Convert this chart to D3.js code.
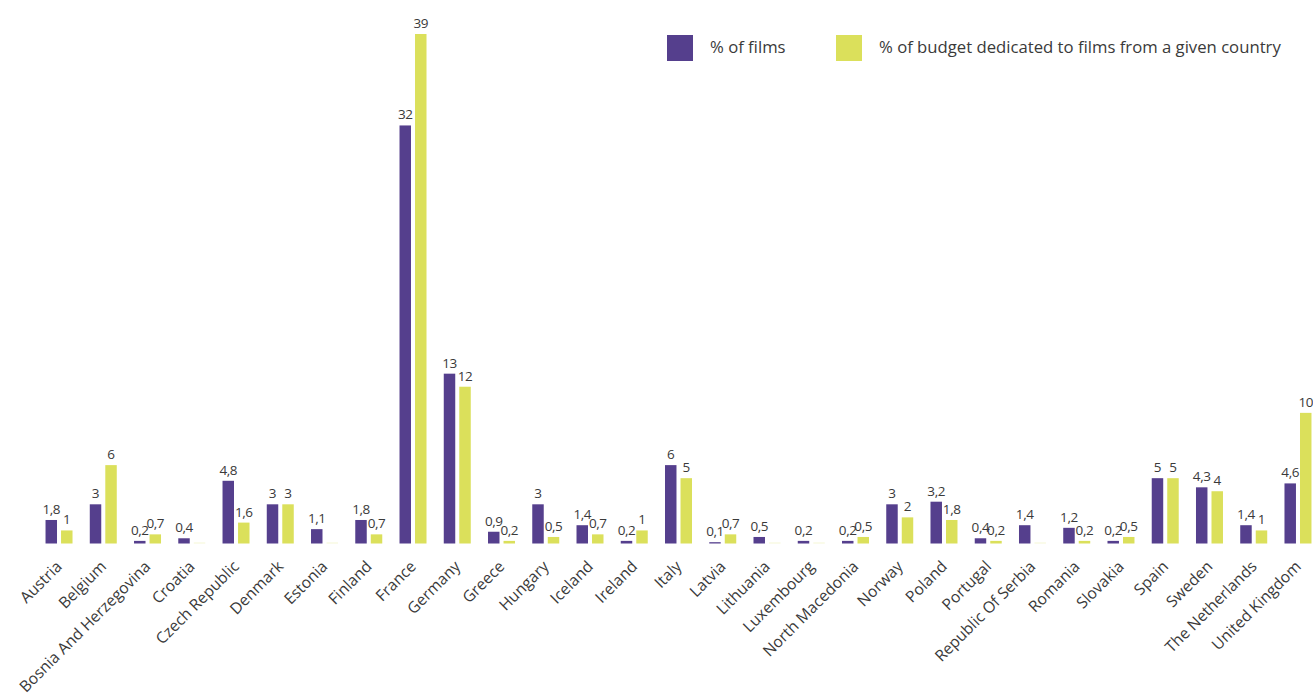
<!DOCTYPE html>
<html>
<head>
<meta charset="utf-8">
<script src="https://cdn.jsdelivr.net/npm/d3@7"></script>
<style>
  html, body { margin: 0; padding: 0; background: #fff; }
  svg { display: block; font-family: "Open Sans", "DejaVu Sans", sans-serif; }
</style>
</head>
<body>
<svg id="chart" width="1313" height="697"></svg>
<script>
// Countries shown along the horizontal axis
const countries = [
  "Austria", "Belgium", "Bosnia And Herzegovina", "Croatia", "Czech Republic",
  "Denmark", "Estonia", "Finland", "France", "Germany", "Greece", "Hungary",
  "Iceland", "Ireland", "Italy", "Latvia", "Lithuania", "Luxembourg",
  "North Macedonia", "Norway", "Poland", "Portugal", "Republic Of Serbia",
  "Romania", "Slovakia", "Spain", "Sweden", "The Netherlands", "United Kingdom"
];

// Share of films by country of origin (%)
const filmsShare = [
  1.8, 3, 0.2, 0.4, 4.8, 3, 1.1, 1.8, 32, 13, 0.9, 3, 1.4, 0.2, 6, 0.1, 0.5,
  0.2, 0.2, 3, 3.2, 0.4, 1.4, 1.2, 0.2, 5, 4.3, 1.4, 4.6
];

// Share of budget dedicated to films from each country (%)
const budgetShare = [
  1, 6, 0.7, 0, 1.6, 3, 0, 0.7, 39, 12, 0.2, 0.5, 0.7, 1, 5, 0.7, 0, 0,
  0.5, 2, 1.8, 0.2, 0, 0.2, 0.5, 5, 4, 1, 10
];

const seriesNames = ["% of films", "% of budget dedicated to films from a given country"];
const seriesColors = ["#553f8d", "#dbe05b"];

const svg = d3.select("#chart");
const textColor = "#3a3a3a";

const x0 = d3.scaleBand()
  .domain(countries)
  .range([36.9, 1320.1])
  .paddingInner(0.39)
  .paddingOuter(0.195);

const x1 = d3.scaleBand()
  .domain([0, 1])
  .range([0, x0.bandwidth()])
  .paddingInner(0.26);

const y = d3.scaleLinear()
  .domain([0, 39])
  .range([543.5, 34]);

const fmt = v => String(v).replace(".", ",");

const rows = countries.map((c, i) => ({
  country: c,
  values: [filmsShare[i], budgetShare[i]]
}));

const groups = svg.append("g").selectAll("g")
  .data(rows)
  .join("g")
  .attr("transform", d => `translate(${x0(d.country)},0)`);

const bars = groups.selectAll("g.bar")
  .data(d => d.values.map((v, s) => ({ v, s })))
  .join("g")
  .attr("class", "bar");

bars.append("rect")
  .attr("x", d => x1(d.s))
  .attr("width", x1.bandwidth())
  .attr("y", d => d.v > 0 ? y(d.v) : y(0) - 1)
  .attr("height", d => d.v > 0 ? y(0) - y(d.v) : 1)
  .attr("fill", d => seriesColors[d.s])
  .attr("fill-opacity", d => d.v > 0 ? 1 : 0.25);

bars.filter(d => d.v > 0).append("text")
  .attr("x", d => x1(d.s) + x1.bandwidth() / 2)
  .attr("y", d => y(d.v) - 6)
  .attr("text-anchor", "middle")
  .attr("font-size", 13.5)
  .attr("fill", textColor)
  .attr("letter-spacing", "-0.4")
  .text(d => fmt(d.v));

// Category axis (rotated labels, no axis line)
const xAxis = svg.append("g")
  .attr("transform", `translate(0,${y(0)})`)
  .call(d3.axisBottom(x0).tickSize(0).tickPadding(0))
  .attr("font-family", null)
  .attr("font-size", null);
xAxis.select(".domain").remove();
xAxis.selectAll("text")
  .attr("font-size", 15.7)
  .attr("fill", textColor)
  .attr("text-anchor", "end")
  .attr("dy", null)
  .attr("transform", "translate(4,24) rotate(-45)");

// Legend
const legend = svg.append("g").attr("transform", "translate(667,35)");
const legendOffsets = [0, 169];
seriesNames.forEach((name, i) => {
  const g = legend.append("g").attr("transform", `translate(${legendOffsets[i]},0)`);
  g.append("rect").attr("width", 26).attr("height", 26).attr("fill", seriesColors[i]);
  g.append("text")
    .attr("x", 43)
    .attr("y", 18)
    .attr("font-size", 16.7)
    .attr("fill", textColor)
    .text(name);
});
</script>
</body>
</html>
